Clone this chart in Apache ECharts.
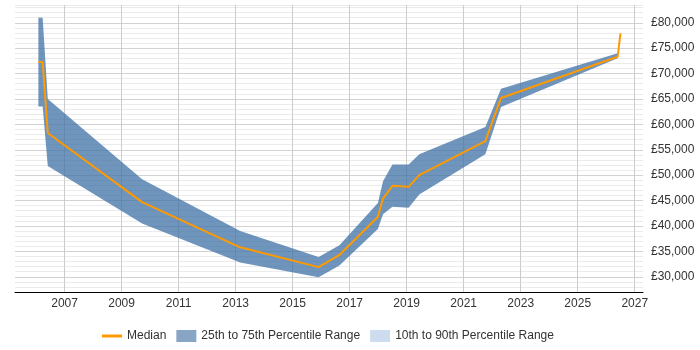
<!DOCTYPE html>
<html>
<head>
<meta charset="utf-8">
<script src="https://cdn.jsdelivr.net/npm/echarts@6/dist/echarts.min.js"></script>
<style>
  html, body { margin: 0; padding: 0; background: #fff; }
  #chart { width: 700px; height: 350px; }
</style>
</head>
<body>
<div id="chart"></div>
<script>
// dates as decimal years
var years = [2006.08, 2006.23, 2006.41, 2009.72, 2013.16, 2015.91, 2016.64, 2017.99, 2018.17, 2018.50, 2019.07, 2019.44, 2021.76, 2022.31, 2026.40, 2026.50];
var median = [72300, 72300, 58300, 44700, 35800, 31900, 34300, 41800, 45400, 47900, 47700, 50000, 56700, 65200, 73300, 77900];
var p25 = [63500, 63500, 51800, 40500, 32800, 29900, 32200, 39400, 42300, 43800, 43600, 46200, 54100, 63400, 73000, null];
var p75 = [81000, 81000, 65000, 49200, 39000, 33900, 36200, 44500, 48800, 52100, 52100, 54100, 59500, 67000, 74000, null];
var yearTicks = [2007, 2009, 2011, 2013, 2015, 2017, 2019, 2021, 2023, 2025, 2027];
var salaryTicks = [30000, 35000, 40000, 45000, 50000, 55000, 60000, 65000, 70000, 75000, 80000];

var medianData = years.map(function (y, i) { return [y, median[i]]; });
var bandData = [];
years.forEach(function (y, i) {
  if (p25[i] != null) bandData.push([y, p25[i], p75[i]]);
});

// whole band as one polygon, drawn on the first item
function renderBand(params, api) {
  if (params.dataIndex !== 0) return null;
  var top = [], bottom = [];
  for (var i = 0; i < bandData.length; i++) {
    top.push(api.coord([bandData[i][0], bandData[i][2]]));
    bottom.unshift(api.coord([bandData[i][0], bandData[i][1]]));
  }
  return {
    type: 'polygon',
    shape: { points: top.concat(bottom) },
    style: { fill: 'rgba(63,114,167,0.75)' }
  };
}

var chart = echarts.init(document.getElementById('chart'));
var font = 'Liberation Sans, Arial, sans-serif';

chart.setOption({
  animation: false,
  backgroundColor: '#fff',
  textStyle: { fontFamily: font },
  grid: { left: 15, right: 57, top: 5, bottom: 58 },
  legend: {
    left: 97,
    top: 325,
    itemWidth: 20,
    itemHeight: 12,
    itemGap: 10,
    textStyle: { fontFamily: font, fontSize: 12, color: '#333' },
    data: [
      { name: 'Median', icon: 'path://M0,0L20,0L20,3L0,3Z', itemStyle: { color: '#ff9900' } },
      { name: '25th to 75th Percentile Range', icon: 'rect', itemStyle: { color: '#88a5c5' } },
      { name: '10th to 90th Percentile Range', icon: 'rect', itemStyle: { color: '#cddcee' } }
    ]
  },
  xAxis: {
    type: 'value',
    min: 2005.26,
    max: 2027.29,
    axisLine: { lineStyle: { color: '#000', width: 1 } },
    axisTick: { show: false, customValues: yearTicks },
    axisLabel: {
      customValues: yearTicks,
      color: '#333', fontSize: 12, margin: 6,
      formatter: function (v) { return String(v); }
    },
    splitLine: { show: true, lineStyle: { color: '#cccccc' } }
  },
  yAxis: [{
    type: 'value',
    position: 'right',
    min: 27000,
    max: 83500,
    interval: 1000,
    axisLine: { show: false },
    axisTick: { show: false },
    axisLabel: { show: false },
    splitLine: { show: true, lineStyle: { color: '#ebebeb' } }
  }, {
    type: 'value',
    position: 'right',
    min: 27000,
    max: 83500,
    axisLine: { show: false },
    axisTick: { show: false, customValues: salaryTicks },
    axisLabel: {
      customValues: salaryTicks,
      color: '#333', fontSize: 12, margin: 8,
      formatter: function (v) { return '£' + v.toLocaleString('en-GB'); }
    },
    splitLine: { show: true, lineStyle: { color: '#d2d2d2' } }
  }],
  series: [
    {
      name: '25th to 75th Percentile Range',
      type: 'custom',
      renderItem: renderBand,
      itemStyle: { color: '#88a5c5' },
      encode: { x: 0, y: [1, 2] },
      data: bandData,
      clip: true,
      z: 2
    },
    {
      name: '10th to 90th Percentile Range',
      type: 'line',
      symbol: 'none',
      itemStyle: { color: '#cddcee' },
      data: []
    },
    {
      name: 'Median',
      type: 'line',
      symbol: 'none',
      itemStyle: { color: '#ff9900' },
      lineStyle: { color: '#ff9900', width: 2 },
      data: medianData,
      z: 3
    }
  ]
});
</script>
</body>
</html>
